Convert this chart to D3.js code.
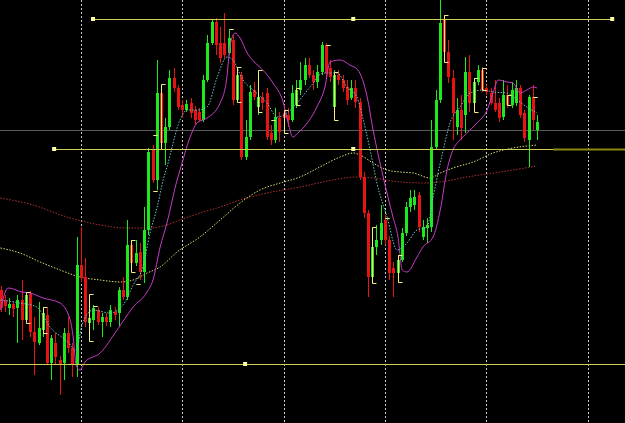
<!DOCTYPE html>
<html>
<head>
<meta charset="utf-8">
<script src="https://cdn.jsdelivr.net/npm/d3@7"></script>
<style>
  body { margin: 0; background: #000; overflow: hidden; }
</style>
</head>
<body>
<div id="chart"></div>
<script>
var width = 625, height = 423;

// OHLC per bar (bar index = position in the array)
var open = [1.3410,1.3400,1.3392,1.3396,1.3392,1.3400,1.3380,1.3406,1.3368,1.3357,
  1.3370,1.3385,1.3337,1.3357,1.3340,1.3337,1.3367,1.3352,1.3335,1.3435,
  1.3423,1.3377,1.3380,1.3390,1.3378,1.3383,1.3378,1.3388,1.3387,1.3410,
  1.3403,1.3455,1.3437,1.3448,1.3428,1.3470,1.3550,1.3520,1.3607,1.3557,
  1.3573,1.3622,1.3612,1.3595,1.3590,1.3597,1.3590,1.3588,1.3580,1.3620,
  1.3657,1.3678,1.3657,1.3657,1.3647,1.3660,1.3600,1.3625,1.3543,1.3563,
  1.3610,1.3593,1.3603,1.3607,1.3567,1.3560,1.3582,1.3587,1.3585,1.3580,
  1.3595,1.3610,1.3620,1.3635,1.3625,1.3618,1.3628,1.3655,1.3632,1.3593,
  1.3625,1.3620,1.3613,1.3602,1.3612,1.3598,1.3523,1.3487,1.3423,1.3453,
  1.3460,1.3480,1.3460,1.3432,1.3427,1.3440,1.3467,1.3493,1.3495,1.3505,
  1.3463,1.3472,1.3473,1.3553,1.3600,1.3680,1.3648,1.3622,1.3573,1.3590,
  1.3585,1.3628,1.3597,1.3618,1.3630,1.3612,1.3607,1.3597,1.3597,1.3583,
  1.3605,1.3595,1.3597,1.3612,1.3587,1.3560,1.3603,1.3570];
var high = [1.3414,1.3405,1.3402,1.3398,1.3405,1.3420,1.3408,1.3409,1.3383,1.3398,
  1.3393,1.3392,1.3365,1.3367,1.3344,1.3372,1.3383,1.3357,1.3463,1.3473,
  1.3442,1.3385,1.3395,1.3393,1.3387,1.3387,1.3395,1.3393,1.3413,1.3423,
  1.3480,1.3460,1.3460,1.3457,1.3493,1.3552,1.3555,1.3640,1.3615,1.3582,
  1.3630,1.3632,1.3615,1.3600,1.3600,1.3602,1.3594,1.3592,1.3625,1.3665,
  1.3680,1.3682,1.3673,1.3687,1.3670,1.3665,1.3633,1.3628,1.3580,1.3615,
  1.3618,1.3620,1.3608,1.3612,1.3575,1.3592,1.3588,1.3595,1.3592,1.3615,
  1.3620,1.3638,1.3642,1.3642,1.3630,1.3635,1.3658,1.3657,1.3640,1.3630,
  1.3630,1.3625,1.3620,1.3620,1.3620,1.3602,1.3528,1.3490,1.3460,1.3475,
  1.3495,1.3485,1.3464,1.3438,1.3445,1.3472,1.3498,1.3510,1.3510,1.3508,
  1.3480,1.3482,1.3580,1.3610,1.3700,1.3685,1.3660,1.3630,1.3602,1.3605,
  1.3643,1.3645,1.3622,1.3635,1.3633,1.3615,1.3612,1.3620,1.3602,1.3620,
  1.3615,1.3618,1.3620,1.3615,1.3590,1.3605,1.3615,1.3585];
var low = [1.3388,1.3388,1.3385,1.3383,1.3357,1.3360,1.3377,1.3363,1.3325,1.3355,
  1.3363,1.3335,1.3320,1.3335,1.3305,1.3320,1.3347,1.3323,1.3323,1.3418,
  1.3373,1.3375,1.3370,1.3375,1.3363,1.3374,1.3373,1.3380,1.3373,1.3400,
  1.3400,1.3433,1.3434,1.3420,1.3417,1.3465,1.3517,1.3510,1.3552,1.3535,
  1.3570,1.3608,1.3590,1.3582,1.3588,1.3582,1.3575,1.3578,1.3578,1.3618,
  1.3655,1.3645,1.3637,1.3642,1.3645,1.3595,1.3598,1.3540,1.3540,1.3560,
  1.3600,1.3585,1.3590,1.3560,1.3555,1.3557,1.3558,1.3570,1.3573,1.3578,
  1.3592,1.3605,1.3615,1.3622,1.3610,1.3612,1.3625,1.3622,1.3618,1.3580,
  1.3615,1.3608,1.3595,1.3600,1.3592,1.3520,1.3482,1.3403,1.3417,1.3445,
  1.3455,1.3455,1.3420,1.3403,1.3418,1.3438,1.3464,1.3488,1.3490,1.3468,
  1.3460,1.3457,1.3468,1.3550,1.3597,1.3645,1.3617,1.3560,1.3565,1.3560,
  1.3567,1.3588,1.3588,1.3615,1.3608,1.3605,1.3595,1.3588,1.3578,1.3580,
  1.3592,1.3592,1.3594,1.3582,1.3558,1.3533,1.3570,1.3560];
var close = [1.3392,1.3394,1.3396,1.3391,1.3400,1.3380,1.3405,1.3368,1.3358,1.3372,
  1.3387,1.3337,1.3362,1.3343,1.3335,1.3367,1.3352,1.3336,1.3435,1.3422,
  1.3378,1.3382,1.3392,1.3378,1.3383,1.3378,1.3390,1.3385,1.3410,1.3403,
  1.3455,1.3437,1.3447,1.3428,1.3470,1.3548,1.3520,1.3607,1.3557,1.3573,
  1.3622,1.3612,1.3593,1.3590,1.3596,1.3587,1.3580,1.3580,1.3620,1.3657,
  1.3678,1.3655,1.3642,1.3645,1.3662,1.3600,1.3625,1.3543,1.3563,1.3608,
  1.3603,1.3603,1.3597,1.3563,1.3560,1.3583,1.3568,1.3582,1.3580,1.3607,
  1.3610,1.3620,1.3635,1.3625,1.3618,1.3628,1.3655,1.3627,1.3623,1.3625,
  1.3620,1.3612,1.3600,1.3612,1.3598,1.3523,1.3487,1.3423,1.3453,1.3460,
  1.3477,1.3460,1.3427,1.3427,1.3440,1.3467,1.3493,1.3502,1.3503,1.3473,
  1.3473,1.3475,1.3553,1.3600,1.3677,1.3648,1.3623,1.3587,1.3590,1.3572,
  1.3628,1.3597,1.3618,1.3630,1.3610,1.3608,1.3597,1.3590,1.3582,1.3605,
  1.3595,1.3610,1.3612,1.3585,1.3562,1.3603,1.3580,1.3578];

// indicator lines: [bar index, price]
var maFast = [[0,1.3400],[4.6,1.3397],[8.6,1.3393],[11.7,1.3373],[15.7,1.3359],[17.9,1.3350],
  [19.3,1.3375],[21.9,1.3390],[25.9,1.3387],[29,1.3395],[31.4,1.3415],[33.7,1.3433],
  [35.4,1.3467],[37.1,1.3493],[38.5,1.3520],[39.4,1.3533],[42.5,1.3580],[44.2,1.3590],
  [46.5,1.3590],[48.9,1.3593],[51.3,1.3623],[53.6,1.3643],[55,1.3640],[57.4,1.3620],
  [59.8,1.3610],[63.1,1.3597],[65.5,1.3583],[67.8,1.3587],[70.2,1.3597],[73.3,1.3613],
  [76.4,1.3627],[79.7,1.3627],[82,1.3613],[84.4,1.3603],[85.1,1.3593],[87.5,1.3550],
  [89.1,1.3517],[91.5,1.3483],[93.9,1.3450],[96.2,1.3457],[98.6,1.3470],[101,1.3473],
  [102.4,1.3503],[104.8,1.3550],[106.4,1.3577],[108.8,1.3593],[111.2,1.3607],[114.2,1.3610],
  [116.6,1.3608],[119.9,1.3607],[122.3,1.3600],[124.6,1.3593],[127,1.3587]];
var maMid = [[0,1.3390],[1.8,1.3412],[5.1,1.3408],[7,1.3407],[10.1,1.3402],[14.1,1.3397],
  [16.5,1.3380],[17.2,1.3363],[17.9,1.3335],[18.8,1.3330],[20,1.3338],[23.6,1.3347],
  [27.6,1.3370],[31.4,1.3393],[34.7,1.3408],[36.1,1.3420],[37.8,1.3453],[39.4,1.3477],
  [41.8,1.3520],[42.5,1.3530],[44.9,1.3563],[46.5,1.3577],[48.9,1.3582],[52,1.3597],
  [53.6,1.3623],[54.3,1.3653],[55.5,1.3667],[56.7,1.3662],[58.4,1.3647],[60.3,1.3637],
  [62.1,1.3630],[64.5,1.3617],[66.9,1.3598],[68.1,1.3577],[69.2,1.3563],[70.4,1.3567],
  [72.6,1.3577],[74.9,1.3593],[76.8,1.3613],[78,1.3638],[80.4,1.3640],[82.7,1.3635],
  [84.6,1.3630],[86.8,1.3603],[88.2,1.3570],[90.6,1.3523],[92.9,1.3483],[94.1,1.3463],
  [95.1,1.3430],[96.2,1.3428],[98.6,1.3443],[100,1.3453],[102.4,1.3463],[104.1,1.3490],
  [105.7,1.3530],[107.1,1.3550],[108.8,1.3560],[110.4,1.3567],[112.8,1.3577],[115.2,1.3590],
  [116.6,1.3607],[117.8,1.3620],[119.9,1.3618],[121.3,1.3617],[123,1.3607],[124.6,1.3610],
  [126.1,1.3613],[127,1.3612]];
var maSlow = [[0,1.3452],[4.6,1.3447],[9.4,1.3438],[14.1,1.3430],[18.8,1.3423],[23.6,1.3420],
  [28.3,1.3418],[31.4,1.3420],[34.7,1.3427],[37.8,1.3433],[41.8,1.3448],[47.2,1.3463],
  [52,1.3480],[56.7,1.3497],[61.4,1.3510],[66.2,1.3517],[70.9,1.3523],[75.6,1.3533],
  [80.4,1.3543],[83.5,1.3547],[85.1,1.3545],[88.2,1.3537],[91.5,1.3530],[94.6,1.3528],
  [97.7,1.3527],[101.7,1.3522],[104.1,1.3527],[107.1,1.3532],[111.9,1.3538],[116.6,1.3547],
  [121.3,1.3552],[127,1.3555]];
var maLong = [[0,1.3502],[7.7,1.3495],[15.7,1.3483],[23.6,1.3475],[29.9,1.3472],[35.4,1.3472],
  [39.4,1.3475],[42.5,1.3480],[47.2,1.3487],[52,1.3493],[56.7,1.3500],[63.1,1.3507],
  [70.9,1.3513],[78.7,1.3520],[84.4,1.3523],[88.2,1.3522],[94.6,1.3518],[101,1.3517],
  [104.1,1.3518],[110.4,1.3523],[118.3,1.3528],[127,1.3534]];

// small range marks: [bar index, top price, bottom price]
var brackets = [[6,1.3408,1.3377],[10,1.3393,1.3367],[21,1.3406,1.3359],[22,1.3394,1.3394],
  [31,1.3460,1.3428],[32,1.3416,1.3416],[36,1.3509,1.3509],[36,1.3565,1.3565],[38,1.3616,1.3551],
  [54,1.3671,1.3671],[56,1.3633,1.3598],[61,1.3630,1.3588],[64,1.3580,1.3580],
  [67,1.3590,1.3567],[70,1.3612,1.3595],[77,1.3655,1.3655],[79,1.3628,1.3580],
  [88,1.3473,1.3417],[91,1.3482,1.3482],[94,1.3445,1.3418],[105,1.3685,1.3638],
  [112,1.3622,1.3588],[114,1.3632,1.3610],[120,1.3605,1.3595],[126,1.3603,1.3603]];

// drawn horizontal levels: price, from/to bar, anchor points
var levelPrices = [1.3681, 1.3551, 1.3336];
var levelFrom = [21.9, 12.7, -1];
var levelTo = [144.8, 148, 148];
var levelAnchors = [[21.9, 83.5, 144.8], [12.7, 83.5], [57.9]];
var bidPrice = 1.3570;
var gridBars = [19, 43, 67, 91, 115, 139];

var x = d3.scaleLinear().domain([0, 127]).range([0.5, 537]);
var y = d3.scaleLinear().domain([1.3700, 1.3277]).range([0, 423]);

var svg = d3.select("#chart")
  .append("svg")
  .attr("width", width)
  .attr("height", height)
  .style("display", "block")
  .style("background", "#000");

// vertical grid
svg.selectAll(".grid")
  .data(gridBars)
  .enter()
  .append("line")
  .attr("class", "grid")
  .attr("x1", function(d) { return Math.round(x(d)) + 0.5; })
  .attr("x2", function(d) { return Math.round(x(d)) + 0.5; })
  .attr("y1", 0)
  .attr("y2", height)
  .attr("stroke", "#c8c8c8")
  .attr("stroke-dasharray", "2,2");

// bid line
svg.append("line")
  .attr("x1", 0).attr("x2", width)
  .attr("y1", Math.round(y(bidPrice)) + 0.5)
  .attr("y2", Math.round(y(bidPrice)) + 0.5)
  .attr("stroke", "#5a5a5a");

// moving averages
var line = d3.line()
  .x(function(d) { return x(d[0]); })
  .y(function(d) { return y(d[1]); })
  .curve(d3.curveMonotoneX);

svg.append("path").datum(maLong)
  .attr("d", line).attr("fill", "none")
  .attr("stroke", "#b03030").attr("stroke-dasharray", "1.5,1.5");
svg.append("path").datum(maSlow)
  .attr("d", line).attr("fill", "none")
  .attr("stroke", "#dcdc78").attr("stroke-dasharray", "1.5,1.5");

// candles
var bars = d3.range(open.length);
svg.selectAll(".wick")
  .data(bars)
  .enter()
  .append("line")
  .attr("class", "wick")
  .attr("x1", function(i) { return Math.round(x(i)) + 0.5; })
  .attr("x2", function(i) { return Math.round(x(i)) + 0.5; })
  .attr("y1", function(i) { return y(high[i]); })
  .attr("y2", function(i) { return y(low[i]); })
  .attr("stroke", function(i) { return close[i] >= open[i] ? "#1ee81e" : "#e81414"; });

svg.selectAll(".body")
  .data(bars)
  .enter()
  .append("rect")
  .attr("class", "body")
  .attr("x", function(i) { return Math.round(x(i)) - 1; })
  .attr("width", 3)
  .attr("y", function(i) { return y(Math.max(open[i], close[i])); })
  .attr("height", function(i) { return Math.max(1, Math.abs(y(open[i]) - y(close[i]))); })
  .attr("fill", function(i) { return close[i] >= open[i] ? "#1ee81e" : "#e81414"; });

svg.append("path").datum(maFast)
  .attr("d", line).attr("fill", "none")
  .attr("stroke", "#6cc4d0").attr("stroke-dasharray", "1.5,1.5");
svg.append("path").datum(maMid)
  .attr("d", line).attr("fill", "none")
  .attr("stroke", "#c83cc8").attr("stroke-width", 1);

// range marks
var bk = svg.selectAll(".bracket")
  .data(brackets)
  .enter()
  .append("g")
  .attr("class", "bracket")
  .attr("stroke", "#f4f07a")
  .attr("fill", "none");
bk.append("path")
  .attr("d", function(d) {
    var cx = Math.round(x(d[0])) + 0.5,
        t = Math.round(y(d[1])) + 0.5,
        b = Math.round(y(d[2])) + 0.5;
    return "M" + (cx + 4) + "," + t + "H" + cx + "V" + b + "H" + (cx + 4);
  });

// horizontal levels
levelPrices.forEach(function(p, k) {
  var yy = Math.round(y(p)) + 0.5;
  svg.append("line")
    .attr("x1", x(levelFrom[k]))
    .attr("x2", x(levelTo[k]))
    .attr("y1", yy).attr("y2", yy)
    .attr("stroke", "#cfcf52");
  svg.selectAll(".anchor" + k)
    .data(levelAnchors[k])
    .enter()
    .append("rect")
    .attr("x", function(d) { return x(d) - 2; })
    .attr("y", yy - 2.5)
    .attr("width", 4)
    .attr("height", 4)
    .attr("fill", "#ffffa8");
});

// darker overlap at the right end of the middle level
svg.append("line")
  .attr("x1", x(130.8)).attr("x2", width)
  .attr("y1", Math.round(y(levelPrices[1])) + 0.5)
  .attr("y2", Math.round(y(levelPrices[1])) + 0.5)
  .attr("stroke", "#8a8a12")
  .attr("stroke-width", 2);
</script>
</body>
</html>
